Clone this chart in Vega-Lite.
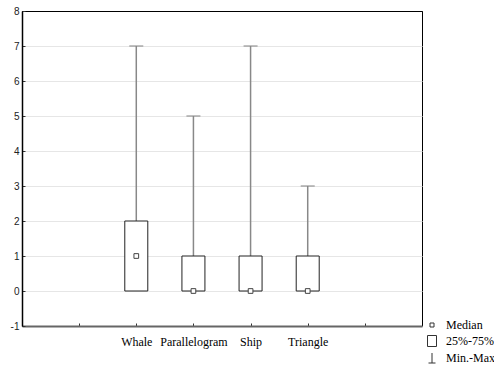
{
  "$schema": "https://vega.github.io/schema/vega-lite/v6.json",
  "width": 400,
  "height": 315,
  "autosize": {"type": "none"},
  "padding": {"left": 22, "top": 11, "right": 72, "bottom": 40},
  "background": "white",
  "config": {
    "view": {"stroke": "#000", "strokeWidth": 1},
    "axis": {"labelFont": "Liberation Sans", "labelColor": "#222", "domainColor": "#333", "tickColor": "#333", "labelFontWeight": "normal"}
  },
  "datasets": {
    "boxes": [
      {"shape": "Whale", "min": 0, "q1": 0, "median": 1, "q3": 2, "max": 7},
      {"shape": "Parallelogram", "min": 0, "q1": 0, "median": 0, "q3": 1, "max": 5},
      {"shape": "Ship", "min": 0, "q1": 0, "median": 0, "q3": 1, "max": 7},
      {"shape": "Triangle", "min": 0, "q1": 0, "median": 0, "q3": 1, "max": 3}
    ],
    "legend": [
      {"item": "Median"},
      {"item": "25%-75%"},
      {"item": "Min.-Max"}
    ]
  },
  "encoding": {
    "x": {
      "field": "shape", "type": "nominal",
      "scale": {"type": "point", "domain": [" ", "Whale", "Parallelogram", "Ship", "Triangle", "  "], "padding": 1},
      "axis": {"title": null, "labelAngle": 0, "labelFont": "Liberation Serif", "labelFontSize": 12, "labelFontWeight": "normal", "labelColor": "#000", "labelPadding": 13, "tickSize": -3, "domainColor": "#666", "domainWidth": 2, "grid": false}
    }
  },
  "layer": [
    {
      "data": {"name": "boxes"},
      "mark": {"type": "rule", "color": "#888", "strokeWidth": 1.5},
      "encoding": {
        "y": {
          "field": "q3", "type": "quantitative",
          "scale": {"domain": [-1, 8], "nice": false, "zero": false},
          "axis": {
            "title": null, "values": [-1, 0, 1, 2, 3, 4, 5, 6, 7, 8], "tickCount": 20, "labelExpr": "'' + datum.value",
            "labelOverlap": false, "labelFontSize": 10, "labelPadding": 6, "tickSize": -3,
            "gridColor": {"condition": {"test": "datum.value == 8", "value": "#000"}, "value": "#e6e6e6"},
            "domainColor": "#000", "domainWidth": 1.5
          }
        },
        "y2": {"field": "max"}
      }
    },
    {
      "data": {"name": "boxes"},
      "mark": {"type": "tick", "orient": "horizontal", "size": 14, "thickness": 1.5, "color": "#888"},
      "encoding": {
        "y": {"field": "max", "type": "quantitative"}
      }
    },
    {
      "data": {"name": "boxes"},
      "mark": {"type": "bar", "size": 23, "fill": "white", "stroke": "#222", "strokeWidth": 1},
      "encoding": {
        "y": {"field": "q1", "type": "quantitative"},
        "y2": {"field": "q3"}
      }
    },
    {
      "data": {"name": "boxes"},
      "mark": {"type": "point", "shape": "square", "size": 22, "filled": false, "fill": "white", "fillOpacity": 1, "stroke": "#444", "strokeWidth": 1, "opacity": 1},
      "encoding": {
        "y": {"field": "median", "type": "quantitative"}
      }
    },
    {
      "data": {"name": "legend"},
      "mark": {"type": "point", "filled": false, "opacity": 0},
      "encoding": {
        "x": {"value": 0},
        "y": {"value": 0},
        "shape": {
          "field": "item", "type": "nominal",
          "scale": {
            "domain": ["Median", "25%-75%", "Min.-Max"],
            "range": ["M-0.4,-0.4H0.4V0.4H-0.4Z", "M-0.9,-1.1H0.9V1.1H-0.9Z", "M0,-1V1M-0.7,1H0.7"]
          },
          "legend": {
            "title": null, "orient": "none", "legendX": 404, "legendY": 308,
            "symbolSize": 100, "symbolStrokeColor": "#333", "symbolStrokeWidth": 1, "symbolOpacity": 1,
            "labelFont": "Liberation Serif", "labelFontSize": 12, "labelFontWeight": "normal", "labelColor": "#000",
            "rowPadding": 2, "labelOffset": 8
          }
        }
      }
    }
  ]
}
